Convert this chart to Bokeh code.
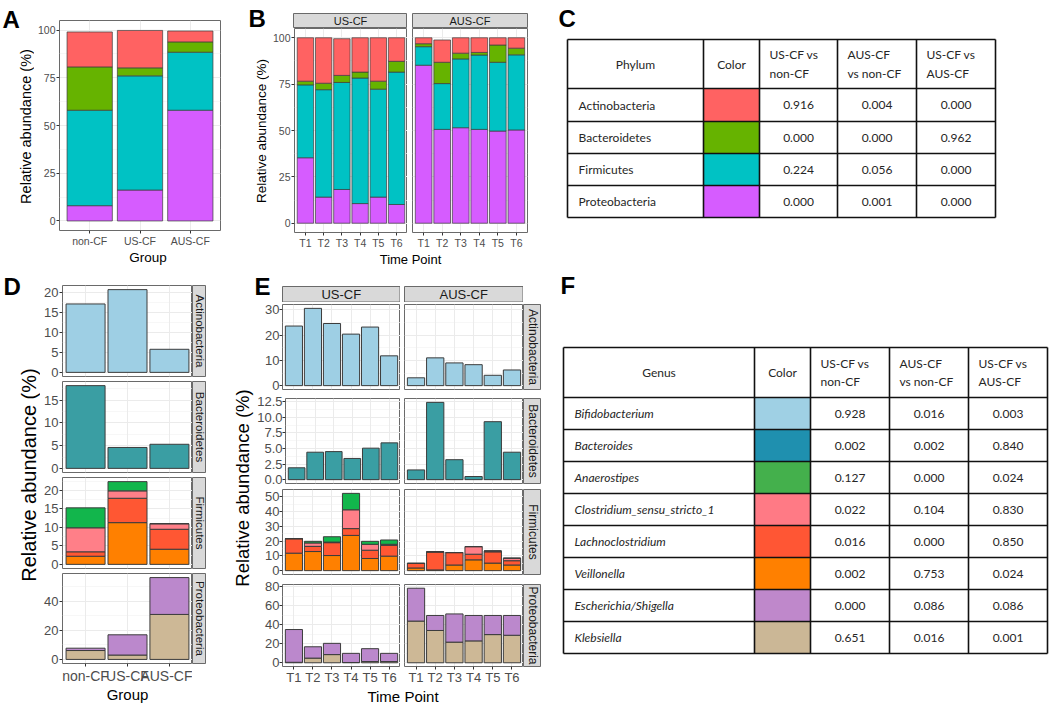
import math
from bokeh.plotting import figure
from bokeh.models import Range1d, FixedTicker, Spacer, Grid, NumeralTickFormatter
from bokeh.layouts import row, column
from bokeh.core.properties import value
from bokeh.embed import file_html
from bokeh.resources import INLINE

# ---------------- data ----------------
groups = ["non-CF", "US-CF", "AUS-CF"]
times = ["T1", "T2", "T3", "T4", "T5", "T6"]
phyla = ["Actinobacteria", "Bacteroidetes", "Firmicutes", "Proteobacteria"]
phylum_colors = ["#FF6262", "#66B300", "#00C2C4", "#D65CFF"]

# Panel A (relative abundance %, by group)
A_actino = [18.3, 19.6, 5.7]
A_bactero = [22.7, 4.2, 5.4]
A_firmi = [50.0, 59.8, 30.4]
A_proteo = [8.0, 16.2, 58.0]

# Panel B (by time point)
B_us_actino = [23.4, 24.5, 19.8, 18.5, 23.4, 12.7]
B_us_bactero = [2.0, 3.5, 3.8, 3.2, 4.3, 5.8]
B_us_firmi = [39.3, 57.9, 57.7, 67.7, 58.2, 71.4]
B_us_proteo = [35.3, 14.1, 18.2, 10.6, 14.1, 10.1]
B_aus_actino = [3.2, 12.0, 8.3, 7.9, 3.9, 5.6]
B_aus_bactero = [1.6, 11.5, 3.1, 1.4, 9.3, 3.6]
B_aus_firmi = [10.0, 24.7, 37.1, 40.1, 37.1, 40.5]
B_aus_proteo = [85.2, 50.6, 51.5, 50.6, 49.7, 50.3]

# Panel C table
C_us_vs_non = ["0.916", "0.000", "0.224", "0.000"]
C_aus_vs_non = ["0.004", "0.000", "0.056", "0.001"]
C_us_vs_aus = ["0.000", "0.962", "0.000", "0.000"]

genera = ["Bifidobacterium", "Bacteroides", "Anaerostipes", "Clostridium_sensu_stricto_1",
          "Lachnoclostridium", "Veillonella", "Escherichia/Shigella", "Klebsiella"]
genus_colors = ["#9FD0E4", "#1F90AF", "#44B04C", "#FF7A85", "#FF5634", "#FF8000", "#BF88CB", "#CBB796"]
genus_bar_colors = ["#9ECFE4", "#3A9EA3", "#12B64C", "#FF7F88", "#FF5733", "#FF8000", "#BB88CC", "#CDB896"]

# Panel D (by group)
D_bifido = [17.2, 20.8, 5.8]
D_bactero = [18.2, 4.6, 5.3]
D_anaero = [5.4, 2.5, 0.0]
D_clostr = [6.5, 2.0, 1.5]
D_lachno = [1.2, 6.6, 5.4]
D_veill = [2.2, 11.3, 4.1]
D_esch = [1.6, 13.9, 25.3]
D_kleb = [6.1, 3.0, 30.9]

# Panel E (by time point)
E_us_bifido = [23.6, 30.6, 24.6, 20.4, 23.2, 11.8]
E_us_bactero = [1.9, 4.4, 4.5, 3.4, 5.05, 5.9]
E_us_veill = [11.8, 12.9, 10.2, 23.8, 8.2, 9.8]
E_us_lachno = [9.8, 3.5, 8.7, 4.6, 5.6, 7.3]
E_us_clostr = [0.0, 2.3, 0.4, 12.7, 4.0, 0.7]
E_us_anaero = [0.0, 1.1, 3.6, 11.1, 2.0, 2.9]
E_us_kleb = [0.5, 4.9, 8.6, 0.3, 1.3, 1.3]
E_us_esch = [34.4, 11.9, 11.8, 9.6, 13.5, 8.6]
E_aus_bifido = [3.1, 11.0, 9.0, 8.3, 4.1, 6.2]
E_aus_bactero = [1.56, 12.4, 3.2, 0.5, 9.3, 4.4]
E_aus_veill = [1.8, 0.5, 3.8, 7.3, 5.1, 3.8]
E_aus_lachno = [3.1, 12.2, 8.4, 3.8, 7.6, 2.9]
E_aus_clostr = [0.0, 0.0, 0.0, 5.1, 0.6, 1.7]
E_aus_anaero = [0.0, 0.0, 0.0, 0.0, 0.0, 0.0]
E_aus_kleb = [43.8, 33.9, 21.7, 23.0, 29.6, 28.9]
E_aus_esch = [34.5, 15.8, 29.6, 26.7, 20.1, 20.8]

# Panel F table
F_us_vs_non = ["0.928", "0.002", "0.127", "0.022", "0.016", "0.002", "0.000", "0.651"]
F_aus_vs_non = ["0.016", "0.002", "0.000", "0.104", "0.000", "0.753", "0.086", "0.016"]
F_us_vs_aus = ["0.003", "0.840", "0.024", "0.830", "0.850", "0.024", "0.086", "0.001"]

# ---------------- style ----------------
FONT = "Liberation Sans"
TFONT = "Lato"
PANEL_LINE = "#6A6A6A"
GRIDC = "#EBEBEB"
MINORC = "#F4F4F4"
STRIP_FILL = "#D9D9D9"
BAR_LINE = "#3C3C3C"


def mkfig(w, h, xr, yr, bl=0, br=0, bt=0, bb=0, xaxis=False, yaxis=False):
    p = figure(width=w, height=h, x_range=xr, y_range=yr, output_backend="svg",
               toolbar_location=None, title=None,
               x_axis_location="below" if xaxis else None,
               y_axis_location="left" if yaxis else None,
               min_border_left=bl, min_border_right=br, min_border_top=bt, min_border_bottom=bb)
    p.grid.visible = False
    p.background_fill_color = "white"
    p.border_fill_color = "white"
    p.outline_line_color = None
    return p


def style_axis(ax, fs, standoff=1):
    ax.axis_line_color = None
    ax.major_tick_line_color = "#333333"
    ax.major_tick_line_width = 1
    ax.major_tick_out = 3
    ax.major_tick_in = 0
    ax.minor_tick_line_color = None
    ax.major_label_text_font = FONT
    ax.major_label_text_font_size = fs
    ax.major_label_text_color = "#4D4D4D"
    ax.major_label_standoff = standoff


def minor_of(ticks, top):
    step = ticks[1] - ticks[0]
    return [t + step / 2 for t in ticks if t + step / 2 < top]


def data_panel(w, h, labels, ymax, yticks, bl, br, bt, bb, xaxis, yaxis, xpad,
               yfs, xfs, yfmt=None, ystandoff=1, xstandoff=1):
    n = len(labels)
    xs = list(range(1, n + 1))
    top = 1.05 * ymax
    p = mkfig(w, h, Range1d(1 - xpad, n + xpad), Range1d(-0.05 * ymax, top),
              bl, br, bt, bb, xaxis, yaxis)
    p.outline_line_color = PANEL_LINE
    p.outline_line_width = 1
    p.add_layout(Grid(dimension=1, ticker=FixedTicker(ticks=yticks, minor_ticks=minor_of(yticks, top)),
                      grid_line_color=GRIDC, grid_line_width=1,
                      minor_grid_line_color=MINORC, minor_grid_line_width=0.7))
    p.add_layout(Grid(dimension=0, ticker=FixedTicker(ticks=xs), grid_line_color=GRIDC, grid_line_width=1))
    if yaxis:
        p.yaxis.ticker = FixedTicker(ticks=yticks)
        style_axis(p.yaxis[0], yfs, ystandoff)
        if yfmt:
            p.yaxis.formatter = NumeralTickFormatter(format=yfmt)
    if xaxis:
        p.xaxis.ticker = FixedTicker(ticks=xs)
        p.xaxis.major_label_overrides = {x: l for x, l in zip(xs, labels)}
        style_axis(p.xaxis[0], xfs, xstandoff)
    return p, xs


def stack(p, xs, layers, colors, width, lw):
    base = [0.0] * len(xs)
    for vals, col in zip(layers, colors):
        top = [b + v for b, v in zip(base, vals)]
        p.vbar(x=xs, width=width, bottom=base, top=top, fill_color=col,
               line_color=BAR_LINE, line_width=lw)
        base = top


def totals(layers):
    return [sum(v) for v in zip(*layers)]


def strip_fig(w, h, label, bl=0, br=0, bt=0, bb=0, vertical=False, fs="12px"):
    p = mkfig(w, h, Range1d(0, 1), Range1d(0, 1), bl, br, bt, bb)
    p.background_fill_color = STRIP_FILL
    p.outline_line_color = PANEL_LINE
    p.text(x=[0.5], y=[0.5], text=[label], angle=(-math.pi / 2 if vertical else 0),
           text_align="center", text_baseline="middle", text_font=value(FONT),
           text_font_size=fs, text_color="#1A1A1A")
    return p


def px_fig(w, h):
    # pixel-like coordinates, origin at the top-left corner
    return mkfig(w, h, Range1d(0, w), Range1d(h, 0))


def strip_px(w, h, l, r, t, b, label, fs):
    p = px_fig(w, h)
    p.quad(left=[l], right=[r], top=[t], bottom=[b], fill_color=STRIP_FILL,
           line_color=PANEL_LINE, line_width=1)
    p.text(x=[(l + r) / 2], y=[(t + b) / 2], text=[label], text_align="center",
           text_baseline="middle", text_font=value(FONT), text_font_size=fs, text_color="#1A1A1A")
    return p


def letter(p, txt, x, y):
    p.text(x=[x], y=[y], text=[txt], text_align="left", text_baseline="top",
           text_font=value(FONT), text_font_size="24px", text_font_style="bold", text_color="black")


def plain_text(p, txt, x, y, fs, angle=0.0):
    p.text(x=[x], y=[y], text=[txt], angle=angle, text_align="center", text_baseline="middle",
           text_font=value(FONT), text_font_size=fs, text_color="black")


def table(p, x0, y0, col_w, row_h, heads, names, swatches, cols, italic):
    xe = [x0]
    for w in col_w:
        xe.append(xe[-1] + w)
    ye = [y0]
    for h in row_h:
        ye.append(ye[-1] + h)
    n = len(names)
    p.quad(left=[xe[1]] * n, right=[xe[2]] * n, top=ye[1:-1], bottom=ye[2:],
           fill_color=swatches, line_color=None)
    p.segment(x0=[xe[0]] * len(ye), x1=[xe[-1]] * len(ye), y0=ye, y1=ye,
              line_color="#111111", line_width=1.6)
    p.segment(x0=xe, x1=xe, y0=[ye[0]] * len(xe), y1=[ye[-1]] * len(xe),
              line_color="#111111", line_width=1.6)
    hy = (ye[0] + ye[1]) / 2
    common = dict(text_font=value(TFONT), text_font_size="12px", text_color="#262626",
                  text_baseline="middle")
    p.text(x=[(xe[0] + xe[1]) / 2, (xe[1] + xe[2]) / 2], y=[hy, hy], text=heads[:2],
           text_align="center", **common)
    p.text(x=[xe[i] + 10 for i in (2, 3, 4)], y=[hy] * 3, text=heads[2:],
           text_align="left", text_line_height=1.25, **common)
    cy = [(ye[i] + ye[i + 1]) / 2 for i in range(1, len(ye) - 1)]
    p.text(x=[xe[0] + 11] * n, y=cy, text=names, text_align="left",
           text_font_style="italic" if italic else "normal", **common)
    for j, vals in enumerate(cols):
        cx = (xe[2 + j] + xe[3 + j]) / 2
        p.text(x=[cx] * n, y=cy, text=vals, text_align="center", **common)


TOP_H = 266
BOT_H = 438

# ---------------- Panel A ----------------
ylabA = px_fig(34, TOP_H)
letter(ylabA, "A", 2, 5)
plain_text(ylabA, "Relative abundance (%)", 25, (20 + 232) / 2, "14.5px", angle=math.pi / 2)
pA, xa = data_panel(191, 249, groups, 100, [0, 25, 50, 75, 100], 24, 5, 20, 17,
                    True, True, 0.6, "10.5px", "10.5px")
stack(pA, xa, [A_proteo, A_firmi, A_bactero, A_actino], phylum_colors[::-1], 0.9, 0.7)
tA = px_fig(191, 17)
plain_text(tA, "Group", (58 + 220) / 2 - 34, 7.5, "13.5px")
groupA = row(ylabA, column(pA, tA))

# ---------------- Panel B ----------------
ylabB = px_fig(44, TOP_H)
letter(ylabB, "B", 23, 4)
plain_text(ylabB, "Relative abundance (%)", 35.5, (28 + 233) / 2, "13.5px", angle=math.pi / 2)
sB1 = strip_fig(138, 28, "US-CF", bl=24, bt=13, fs="11px")
sB2 = strip_fig(143, 28, "AUS-CF", bl=5, br=23, bt=13, fs="11px")
pB1, xb = data_panel(138, 223, times, 100, [0, 25, 50, 75, 100], 24, 0, 0, 18,
                     True, True, 0.6, "10.5px", "10.5px")
stack(pB1, xb, [B_us_proteo, B_us_firmi, B_us_bactero, B_us_actino], phylum_colors[::-1], 0.9, 0.7)
pB2, _ = data_panel(143, 223, times, 100, [0, 25, 50, 75, 100], 5, 23, 0, 18,
                    True, False, 0.6, "10.5px", "10.5px")
stack(pB2, xb, [B_aus_proteo, B_aus_firmi, B_aus_bactero, B_aus_actino], phylum_colors[::-1], 0.9, 0.7)
tB = px_fig(281, 15)
plain_text(tB, "Time Point", (293 + 527) / 2 - 269, 7.5, "13px")
groupB = row(ylabB, column(row(sB1, sB2), row(pB1, pB2), tB))

# ---------------- Panel C ----------------
pC = px_fig(500, TOP_H)
letter(pC, "C", 8, 4)
table(pC, 17, 39, [136, 56, 78, 79, 79], [49, 33, 32, 32, 32],
      ["Phylum", "Color", "US-CF vs\nnon-CF", "AUS-CF\nvs non-CF", "US-CF vs\nAUS-CF"],
      phyla, phylum_colors, [C_us_vs_non, C_aus_vs_non, C_us_vs_aus], False)

top_row = row(groupA, groupB, pC)

# ---------------- Panel D ----------------
gb = genus_bar_colors
D_rows = [
    ("Actinobacteria", [D_bifido], [gb[0]], [0, 5, 10, 15, 20]),
    ("Bacteroidetes", [D_bactero], [gb[1]], [0, 5, 10, 15]),
    ("Firmicutes", [D_veill, D_lachno, D_clostr, D_anaero], [gb[5], gb[4], gb[3], gb[2]], [0, 5, 10, 15, 20]),
    ("Proteobacteria", [D_kleb, D_esch], [gb[7], gb[6]], [0, 20, 40]),
]
D_bt = [19, 1, 1, 1]
D_bb = [4, 4, 4, 22]
D_frame = 91
d_items = []
for i, (name, layers, cols, ticks) in enumerate(D_rows):
    last = i == len(D_rows) - 1
    h = D_bt[i] + D_frame + D_bb[i]
    p, xd = data_panel(152, h, groups, max(totals(layers)), ticks, 22, 0, D_bt[i], D_bb[i],
                       last, True, 0.55, "13px", "14px")
    stack(p, xd, layers, cols, 0.93, 1)
    s = strip_fig(14, h, name, bt=D_bt[i], bb=D_bb[i], vertical=True, fs="11.5px")
    d_items.append(row(p, s))
tD = px_fig(166, 18)
plain_text(tD, "Group", (62 + 192) / 2 - 40, 8, "15px")
d_items.append(tD)
ylabD = px_fig(40, BOT_H)
letter(ylabD, "D", 3, 6.5)
plain_text(ylabD, "Relative abundance (%)", 28, (285 + 664) / 2 - 266, "20px", angle=math.pi / 2)
blockD = row(ylabD, column(*d_items), Spacer(width=24, height=BOT_H))

# ---------------- Panel E ----------------
E_rows = [
    ("Actinobacteria", [E_us_bifido], [E_aus_bifido], [gb[0]], [0, 10, 20, 30], None),
    ("Bacteroidetes", [E_us_bactero], [E_aus_bactero], [gb[1]], [0, 2.5, 5, 7.5, 10, 12.5], "0.0"),
    ("Firmicutes", [E_us_veill, E_us_lachno, E_us_clostr, E_us_anaero],
     [E_aus_veill, E_aus_lachno, E_aus_clostr, E_aus_anaero], [gb[5], gb[4], gb[3], gb[2]],
     [0, 10, 20, 30, 40, 50], None),
    ("Proteobacteria", [E_us_kleb, E_us_esch], [E_aus_kleb, E_aus_esch], [gb[7], gb[6]],
     [0, 20, 40, 60, 80], None),
]
E_bt = [2, 5, 2, 6]
E_bb = [4, 4, 4, 18]
E_frame = 85
hUS = strip_px(146, 36, 28, 145.5, 20, 35.5, "US-CF", "13px")
letter(hUS, "E", 0, 6.5)
hAUS = strip_px(123, 36, 4, 122.5, 20, 35.5, "AUS-CF", "13px")
e_items = [row(hUS, hAUS, Spacer(width=18, height=36))]
for i, (name, us_layers, aus_layers, cols, ticks, fmt) in enumerate(E_rows):
    last = i == len(E_rows) - 1
    h = E_bt[i] + E_frame + E_bb[i]
    ymax = max(totals(us_layers) + totals(aus_layers))
    pu, xe = data_panel(146, h, times, ymax, ticks, 28, 0, E_bt[i], E_bb[i],
                        last, True, 0.6, "13px", "13px", yfmt=fmt, ystandoff=0, xstandoff=0)
    stack(pu, xe, us_layers, cols, 0.9, 1)
    pa, _ = data_panel(123, h, times, ymax, ticks, 4, 0, E_bt[i], E_bb[i],
                       last, False, 0.6, "13px", "13px", xstandoff=0)
    stack(pa, xe, aus_layers, cols, 0.9, 1)
    s = strip_fig(18, h, name, bt=E_bt[i], bb=E_bb[i], vertical=True, fs="12px")
    e_items.append(row(pu, pa, s))
tE = px_fig(287, 17)
plain_text(tE, "Time Point", (282 + 523) / 2 - 254, 8.5, "15px")
e_items.append(tE)
ylabE = px_fig(24, BOT_H)
plain_text(ylabE, "Relative abundance (%)", 12, (305 + 670) / 2 - 266, "18.5px", angle=math.pi / 2)
blockE = row(ylabE, column(*e_items), Spacer(width=14, height=BOT_H))

# ---------------- Panel F ----------------
pF = px_fig(495, BOT_H)
letter(pF, "F", 5, 5)
table(pF, 8, 81, [191, 56, 79, 79, 79], [50] + [32] * len(genera),
      ["Genus", "Color", "US-CF vs\nnon-CF", "AUS-CF\nvs non-CF", "US-CF vs\nAUS-CF"],
      genera, genus_colors, [F_us_vs_non, F_aus_vs_non, F_us_vs_aus], True)

bottom_row = row(blockD, blockE, pF)
page = column(top_row, bottom_row)

open("out.html", "w").write(file_html(page, INLINE))
